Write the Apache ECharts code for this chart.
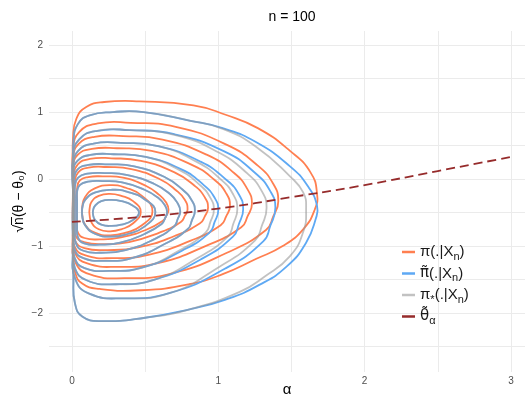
<!DOCTYPE html>
<html>
<head>
<meta charset="utf-8">
<title>n = 100</title>
<script src="https://cdn.jsdelivr.net/npm/echarts@6/dist/echarts.min.js"></script>
<style>
  html, body { margin: 0; padding: 0; background: #fff; }
  #main { width: 532px; height: 396px; }
</style>
</head>
<body>
<div id="main"></div>
<script>
// contour rings: [alpha, sqrt(n)(theta - theta0)]
// pi(.|Xn), outermost first
var postRings = [
  [[.007,.2],[.007,.6],[.03,.9],[.1,1.08],[.22,1.15],[.46,1.16],[.83,1.1],[1.05,.96],[1.27,.76],[1.49,.42],[1.63,.1],[1.675,-.22],[1.66,-.45],[1.58,-.75],[1.44,-1.0],[1.26,-1.19],[1.03,-1.42],[.8,-1.57],[.47,-1.66],[.19,-1.64],[.07,-1.56],[.02,-1.38],[.007,-1.1],[.007,-.5]],
  [[.007,.02],[.007,.43],[.049,.70],[.175,.83],[.40,.84],[.709,.78],[1.059,.51],[1.27,.20],[1.375,-.07],[1.41,-.33],[1.375,-.56],[1.326,-.76],[1.059,-1.10],[.68,-1.41],[.358,-1.48],[.119,-1.42],[.021,-1.23],[.007,-.85]],
  [[.007,-.07],[.007,.29],[.044,.52],[.154,.63],[.349,.64],[.619,.59],[.924,.36],[1.108,.09],[1.199,-.15],[1.23,-.37],[1.199,-.56],[1.157,-.72],[.924,-.99],[.594,-1.25],[.313,-1.31],[.105,-1.26],[.019,-1.10],[.007,-.79]],
  [[.007,-.14],[.007,.16],[.039,.36],[.136,.45],[.307,.46],[.544,.42],[.812,.22],[.973,-.01],[1.053,-.21],[1.08,-.40],[1.053,-.56],[1.016,-.69],[.812,-.92],[.522,-1.13],[.275,-1.18],[.093,-1.14],[.018,-1.01],[.007,-.75]],
  [[.012,-.21],[.012,.05],[.04,.22],[.122,.30],[.269,.31],[.471,.27],[.701,.10],[.838,-.10],[.907,-.27],[.93,-.43],[.907,-.56],[.875,-.66],[.701,-.85],[.453,-1.02],[.242,-1.06],[.085,-1.03],[.021,-.92],[.012,-.71]],
  [[.02,-.26],[.02,-.04],[.043,.10],[.112,.17],[.236,.18],[.405,.15],[.598,0],[.713,-.17],[.771,-.31],[.79,-.45],[.771,-.55],[.744,-.64],[.598,-.80],[.39,-.94],[.213,-.97],[.082,-.94],[.028,-.86],[.02,-.68]],
  [[.035,-.31],[.035,-.14],[.054,-.02],[.11,.03],[.21,.04],[.348,.02],[.504,-.10],[.598,-.24],[.644,-.35],[.66,-.46],[.644,-.55],[.623,-.62],[.504,-.76],[.335,-.87],[.191,-.90],[.085,-.88],[.041,-.80],[.035,-.66]],
  [[.07,-.42],[.089,-.27],[.156,-.14],[.262,-.09],[.368,-.13],[.478,-.25],[.55,-.48],[.478,-.69],[.368,-.80],[.262,-.84],[.156,-.80],[.089,-.68],[.07,-.53]],
  [[.12,-.45],[.134,-.34],[.183,-.25],[.26,-.22],[.337,-.25],[.418,-.33],[.47,-.49],[.418,-.66],[.337,-.75],[.26,-.78],[.183,-.75],[.134,-.65],[.12,-.53]]
];

// pi~(.|Xn)
var tildeRings = [
  [[.01,.1],[.01,.55],[.04,.82],[.12,.95],[.28,1.0],[.49,1.0],[.81,.87],[1.03,.76],[1.26,.55],[1.49,.19],[1.61,-.1],[1.675,-.4],[1.665,-.6],[1.6,-.95],[1.47,-1.3],[1.28,-1.58],[1.05,-1.8],[.81,-1.94],[.5,-2.07],[.2,-2.12],[.07,-2.05],[.02,-1.85],[.01,-1.5],[.01,-.7]],
  [[.007,-.08],[.007,.32],[.048,.59],[.173,.72],[.394,.73],[.699,.67],[1.044,.41],[1.252,.09],[1.355,-.18],[1.39,-.43],[1.355,-.70],[1.307,-.93],[1.044,-1.34],[.671,-1.70],[.353,-1.78],[.118,-1.71],[.021,-1.48],[.007,-1.04]],
  [[.007,-.15],[.007,.19],[.042,.42],[.147,.53],[.333,.54],[.589,.49],[.879,.26],[1.054,-.01],[1.141,-.23],[1.17,-.45],[1.141,-.67],[1.1,-.86],[.879,-1.20],[.565,-1.50],[.298,-1.57],[.1,-1.51],[.019,-1.32],[.007,-.95]],
  [[.007,-.21],[.007,.08],[.037,.27],[.126,.36],[.285,.37],[.504,.33],[.752,.14],[.901,-.09],[.975,-.28],[1.0,-.46],[.975,-.64],[.94,-.80],[.752,-1.07],[.484,-1.32],[.255,-1.37],[.086,-1.33],[.017,-1.17],[.007,-.87]],
  [[.012,-.26],[.012,-.02],[.037,.14],[.111,.21],[.244,.22],[.426,.19],[.633,.03],[.757,-.16],[.819,-.32],[.84,-.47],[.819,-.62],[.79,-.75],[.633,-.97],[.409,-1.18],[.219,-1.22],[.078,-1.18],[.02,-1.06],[.012,-.81]],
  [[.02,-.31],[.02,-.11],[.042,.02],[.106,.08],[.222,.09],[.38,.06],[.56,-.07],[.668,-.22],[.722,-.36],[.74,-.48],[.722,-.60],[.697,-.71],[.56,-.90],[.366,-1.06],[.2,-1.10],[.078,-1.07],[.027,-.96],[.02,-.76]],
  [[.035,-.35],[.035,-.19],[.053,-.09],[.109,-.04],[.207,-.03],[.343,-.05],[.496,-.16],[.589,-.28],[.635,-.39],[.65,-.49],[.635,-.59],[.613,-.67],[.496,-.82],[.33,-.95],[.189,-.98],[.084,-.96],[.041,-.87],[.035,-.71]],
  [[.07,-.44],[.09,-.31],[.16,-.20],[.27,-.16],[.38,-.19],[.495,-.30],[.57,-.49],[.495,-.71],[.38,-.82],[.27,-.86],[.16,-.82],[.09,-.69],[.07,-.55]],
  [[.144,-.47],[.157,-.40],[.2,-.33],[.27,-.31],[.339,-.33],[.411,-.39],[.458,-.50],[.411,-.62],[.339,-.68],[.27,-.70],[.2,-.68],[.157,-.61],[.144,-.53]]
];

// pi*(.|Xn): the outer four part from pi~ on the right, the inner ones lie on it
var starRings = [
  [[.01,.1],[.01,.55],[.04,.82],[.12,.95],[.28,1.0],[.49,1.0],[.81,.87],[1.03,.75],[1.26,.48],[1.49,.04],[1.58,-.2],[1.6,-.45],[1.58,-.79],[1.49,-1.15],[1.32,-1.45],[1.15,-1.68],[.81,-1.94],[.5,-2.07],[.2,-2.12],[.07,-2.05],[.02,-1.85],[.01,-1.5],[.01,-.7]],
  [[.007,-.08],[.007,.32],[.048,.59],[.173,.72],[.394,.73],[.699,.66],[1.0,.40],[1.2,.08],[1.297,-.18],[1.33,-.43],[1.297,-.70],[1.25,-.92],[1.0,-1.32],[.671,-1.70],[.353,-1.78],[.118,-1.71],[.021,-1.48],[.007,-1.04]],
  [[.007,-.15],[.007,.19],[.042,.42],[.147,.53],[.333,.54],[.589,.49],[.85,.26],[1.02,-.01],[1.102,-.23],[1.13,-.45],[1.102,-.67],[1.065,-.86],[.85,-1.19],[.565,-1.50],[.298,-1.57],[.1,-1.51],[.019,-1.32],[.007,-.95]],
  [[.007,-.21],[.007,.08],[.037,.27],[.126,.36],[.285,.37],[.504,.33],[.73,.14],[.875,-.09],[.946,-.28],[.97,-.46],[.946,-.64],[.913,-.80],[.73,-1.07],[.484,-1.32],[.255,-1.37],[.086,-1.33],[.017,-1.17],[.007,-.87]]
].concat(tildeRings.slice(4));

// theta~_alpha
var thetaCurve = [[0,-.64],[.5,-.56],[1.0,-.44],[1.5,-.27],[2.0,-.09],[2.5,.12],[3.0,.33]];

var xTickLabels = [0, 1, 2, 3];
var yTickLabels = [-2, -1, 0, 1, 2];

var legendNames = ['post', 'tilde', 'star', 'theta'];
var legendText = {
  post: '{t|π(.|X}{s|n}{t|)}',
  tilde: '{c|π\u0303}{t|(.|X}{s|n}{t|)}',
  star: '{t|π}{a|*}{t|(.|X}{s|n}{t|)}',
  theta: '{c|θ\u0303}{s|α}'
};

var ORANGE = '#FF7F50', BLUE = '#5EA9F4', GREY = '#999999', DARKRED = '#962B2B';

// one closed smooth loop per ring, placed with the grid's own scales
function ringSeries(name, rings, color, legendColor, opacity) {
  return {
    name: name, type: 'custom', coordinateSystem: 'cartesian2d',
    data: rings.map(function (r, i) { return [i, 0]; }),
    encode: { x: 0, y: 1 },
    itemStyle: { color: legendColor },
    silent: true,
    renderItem: function (params, api) {
      var ring = rings[params.dataIndex];
      return {
        type: 'polygon',
        shape: { points: ring.map(function (p) { return api.coord(p); }), smooth: 0.5, smoothConstraint: false },
        style: { fill: 'none', stroke: color, lineWidth: 1.8, opacity: opacity }
      };
    }
  };
}

var series = [
  ringSeries('post', postRings, ORANGE, ORANGE, 1),
  ringSeries('tilde', tildeRings, BLUE, BLUE, 1),
  ringSeries('star', starRings, GREY, '#C2C2C2', 0.6),
  { name: 'theta', type: 'line', data: thetaCurve, smooth: true, symbol: 'none',
    itemStyle: { color: DARKRED }, lineStyle: { color: DARKRED, width: 1.8, type: [9, 5] } }
];

function tickFmt(list) {
  return function (v) {
    for (var i = 0; i < list.length; i++) {
      if (Math.abs(v - list[i]) < 1e-6) return String(list[i]).replace('-', '\u2212');
    }
    return '';
  };
}

var chart = echarts.init(document.getElementById('main'));
chart.setOption({
  animation: false,
  backgroundColor: '#fff',
  textStyle: { fontFamily: 'Liberation Sans, Arial, sans-serif' },
  title: {
    text: 'n = 100', left: 287, top: 5, textAlign: 'center',
    textStyle: { fontSize: 14, fontWeight: 'normal', color: '#000' }
  },
  grid: { left: 49, right: 7, top: 31, bottom: 24, outerBoundsMode: 'none', containLabel: false },
  legend: {
    data: legendNames, orient: 'vertical', left: 397, top: 238,
    itemWidth: 13, itemHeight: 2.5, itemGap: 2.5, icon: 'rect',
    formatter: function (n) { return legendText[n]; },
    textStyle: {
      color: '#1a1a1a',
      rich: {
        t: { fontSize: 15, lineHeight: 20, color: '#1a1a1a' },
        c: { fontSize: 15, lineHeight: 20, color: '#1a1a1a', fontFamily: 'DejaVu Sans' },
        s: { fontSize: 11, lineHeight: 14, verticalAlign: 'bottom', padding: [8, 0, 0, 0], color: '#1a1a1a' },
        a: { fontSize: 11, lineHeight: 14, verticalAlign: 'bottom', padding: [5, 0, 0, 0], color: '#1a1a1a' }
      }
    }
  },
  xAxis: {
    type: 'value', min: -0.157, max: 3.096, splitNumber: 7,
    name: 'α', nameLocation: 'middle', nameGap: 10, nameMoveOverlap: false,
    nameTextStyle: { fontSize: 15, color: '#000' },
    axisLine: { show: false }, axisTick: { show: false },
    axisLabel: { fontSize: 10, color: '#4d4d4d', margin: 4, formatter: tickFmt(xTickLabels) },
    splitLine: { show: true, showMinLine: false, showMaxLine: false, lineStyle: { color: '#ebebeb', width: 1 } }
  },
  yAxis: {
    type: 'value', min: -2.88, max: 2.21, splitNumber: 10,
    name: '√n\u0305(θ − θ₀)', nameLocation: 'middle', nameGap: 23, nameMoveOverlap: false,
    nameTextStyle: { fontSize: 14, color: '#000' },
    axisLine: { show: false }, axisTick: { show: false },
    axisLabel: { fontSize: 10, color: '#4d4d4d', margin: 6, formatter: tickFmt(yTickLabels) },
    splitLine: { show: true, showMinLine: false, showMaxLine: false, lineStyle: { color: '#ebebeb', width: 1 } }
  },
  series: series
});
</script>
</body>
</html>
